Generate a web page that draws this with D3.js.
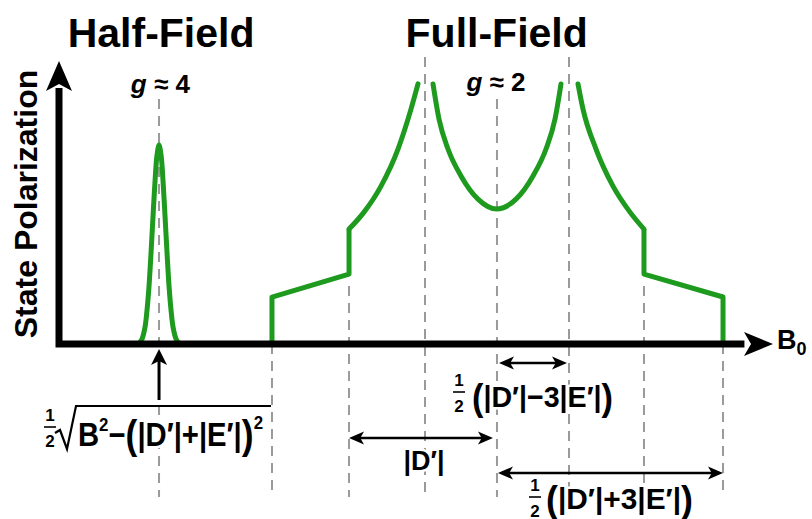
<!DOCTYPE html>
<html>
<head>
<meta charset="utf-8">
<script src="https://cdn.jsdelivr.net/npm/d3@7"></script>
<style>
  html, body { margin: 0; padding: 0; background: #ffffff; }
  svg { display: block; }
  text { font-family: "Liberation Sans", Arial, Helvetica, sans-serif; font-weight: bold; fill: #000; }
  .halo { paint-order: stroke; stroke: #ffffff; stroke-width: 5px; stroke-linejoin: round; }
</style>
</head>
<body>
<svg id="chart" width="812" height="519"></svg>
<script>
// Magnetic field axis in arbitrary units (0 = origin, 100 = arrow tip),
// state polarization in arbitrary units (0 = baseline).

// Half-field (g ≈ 4) transition: narrow bell-shaped peak
const halfFieldPeak = [
  [11.21, 0.2], [11.63, 1.8], [12.05, 6.0], [12.33, 12.0], [12.61, 20.5],
  [12.89, 32.2], [13.17, 45.2], [13.45, 57.6], [13.73, 66.8], [14.01, 70.3],
  [14.29, 66.8], [14.57, 57.6], [14.85, 45.2], [15.13, 32.2], [15.41, 20.5],
  [15.69, 12.0], [15.97, 6.0], [16.39, 1.8], [16.81, 0.2]
];

// Full-field (g ≈ 2) powder pattern, split into straight steps and smooth branches
const fullLeftSteps = [[29.83, 0], [29.83, 16.6], [40.62, 24.7], [40.62, 40.6]];
const fullLeftRise = [[40.62, 40.6], [42.72, 46.6], [45.10, 55.8], [47.48, 68.9], [49.30, 83.0], [50.28, 91.9]];
const fullDip = [
  [52.38, 91.9], [53.22, 79.5], [54.48, 68.9], [56.30, 59.4], [58.68, 51.2],
  [61.34, 47.7], [64.01, 51.2], [66.39, 59.4], [68.21, 68.9], [69.47, 79.5], [70.31, 91.9]
];
const fullRightFall = [[72.69, 91.9], [73.39, 83.0], [75.21, 68.9], [77.59, 55.8], [79.97, 46.6], [81.93, 40.6]];
const fullRightSteps = [[81.93, 40.6], [81.93, 24.7], [93.00, 16.6], [93.00, 0]];

// Dashed guide lines: field position and upper end (lower end is common)
const guideX   = [14.01, 29.83, 40.62, 51.26, 61.34, 71.43, 81.93, 93.00];
const guideTop = [86.6, 0, 20.5, 101.4, 86.6, 101.4, 20.5, 0];
const guideBottom = -54.1;

// Interval arrows (field positions of the two ends)
const spanD      = [40.62, 60.78];
const spanMinus  = [61.62, 71.15];
const spanPlus   = [61.48, 93.00];
const resonanceX = 14.01;

// Titles and g-factor labels, centred on the transitions
const titleText = ["Half-Field", "Full-Field"];
const titleX    = [14.3, 61.3];
const gValue    = ["4", "2"];
const gX        = [14.2, 61.2];

const svg = d3.select("#chart");
const x = d3.scaleLinear().domain([0, 100]).range([59, 773]);
const y = d3.scaleLinear().domain([0, 100]).range([344, 61]);

const GREEN = "#1e9a1e";
const GRAY = "#9a9a9a";

// ---- guide lines
svg.append("g").selectAll("line").data(guideX).join("line")
  .attr("x1", d => x(d)).attr("x2", d => x(d))
  .attr("y1", (d, i) => y(guideTop[i])).attr("y2", y(guideBottom))
  .attr("stroke", GRAY).attr("stroke-width", 2)
  .attr("stroke-dasharray", "10,7");

// ---- spectrum
const smooth = d3.line().x(d => x(d[0])).y(d => y(d[1])).curve(d3.curveMonotoneX);
const bell = d3.line().x(d => x(d[0])).y(d => y(d[1])).curve(d3.curveCatmullRom.alpha(0.5));
const straight = d3.line().x(d => x(d[0])).y(d => y(d[1]));
const curves = svg.append("g").attr("fill", "none").attr("stroke", GREEN)
  .attr("stroke-width", 5).attr("stroke-linejoin", "round").attr("stroke-linecap", "round");
curves.append("path").attr("d", bell(halfFieldPeak));
curves.append("path").attr("d", straight(fullLeftSteps)).attr("stroke-linecap", "butt");
curves.append("path").attr("d", smooth(fullLeftRise));
curves.append("path").attr("d", smooth(fullDip));
curves.append("path").attr("d", smooth(fullRightFall));
curves.append("path").attr("d", straight(fullRightSteps)).attr("stroke-linecap", "butt");

// ---- axes
const x0 = x(0), y0 = y(0);
svg.append("path")
  .attr("d", `M${x0},88 V${y0} H${x(96)}`)
  .attr("fill", "none").attr("stroke", "#000").attr("stroke-width", 7)
  .attr("stroke-linejoin", "miter");
svg.append("path")
  .attr("d", `M${x0},${y(100)} L${x0 - 13},${y(100) + 30} L${x0},${y(100) + 23} L${x0 + 13},${y(100) + 30} Z`)
  .attr("fill", "#000");
svg.append("path")
  .attr("d", `M${x(100)},${y0} L${x(100) - 29},${y0 - 12} L${x(100) - 22},${y0} L${x(100) - 29},${y0 + 12} Z`)
  .attr("fill", "#000");

// axis titles
svg.append("text").attr("transform", "translate(37,204) rotate(-90)")
  .attr("text-anchor", "middle").attr("font-size", 32).text("State Polarization");
const b0 = svg.append("text").attr("x", 777).attr("y", 349).attr("font-size", 27);
b0.append("tspan").text("B");
b0.append("tspan").attr("font-size", 18).attr("dy", 6).text("0");

// ---- titles and g labels
svg.append("g").selectAll("text").data(titleText).join("text")
  .attr("x", (d, i) => x(titleX[i])).attr("y", 47)
  .attr("text-anchor", "middle").attr("font-size", 41).text(d => d);

gValue.forEach((v, i) => {
  const t = svg.append("text").attr("x", x(gX[i])).attr("y", i === 0 ? 93 : 91)
    .attr("text-anchor", "middle").attr("font-size", 26).attr("class", "halo");
  t.append("tspan").attr("font-style", "italic").text("g");
  t.append("tspan").text(" \u2248 " + v);
});

// ---- arrows
function head(g, tx, ty, dir, len, half) {
  // dir: unit vector pointing toward the tip
  const [dx, dy] = dir;
  const bx = tx - dx * len, by = ty - dy * len;
  const px = -dy, py = dx;
  g.append("path")
    .attr("d", `M${tx},${ty} L${bx + px * half},${by + py * half} L${tx - dx * len * 0.75},${ty - dy * len * 0.75} L${bx - px * half},${by - py * half} Z`)
    .attr("fill", "#000");
}
function doubleArrow(span, yy) {
  const g = svg.append("g");
  const a = x(span[0]), b = x(span[1]);
  g.append("line").attr("x1", a + 8).attr("x2", b - 8).attr("y1", yy).attr("y2", yy)
    .attr("stroke", "#000").attr("stroke-width", 2.6);
  head(g, a, yy, [-1, 0], 15, 6.5);
  head(g, b, yy, [1, 0], 15, 6.5);
}
doubleArrow(spanMinus, 363);
doubleArrow(spanD, 438);
doubleArrow(spanPlus, 473);

const up = svg.append("g");
up.append("line").attr("x1", x(resonanceX)).attr("x2", x(resonanceX))
  .attr("y1", 400).attr("y2", 360).attr("stroke", "#000").attr("stroke-width", 3);
head(up, x(resonanceX), 349, [0, -1], 16, 8);

// ---- formula labels
function fraction(cx, yTop) {
  const g = svg.append("g");
  g.append("text").attr("x", cx).attr("y", yTop).attr("text-anchor", "middle")
    .attr("font-size", 17).attr("class", "halo").text("1");
  g.append("line").attr("x1", cx - 6).attr("x2", cx + 6).attr("y1", yTop + 6).attr("y2", yTop + 6)
    .attr("stroke", "#000").attr("stroke-width", 1.6);
  g.append("text").attr("x", cx).attr("y", yTop + 26).attr("text-anchor", "middle")
    .attr("font-size", 17).attr("class", "halo").text("2");
}
function mathText(x0, yBase, width, pieces) {
  const t = svg.append("text").attr("x", x0).attr("y", yBase).attr("class", "halo");
  pieces.forEach(p => t.append("tspan").attr("font-size", p.s).attr("dy", p.dy || 0).text(p.t));
  if (width) t.attr("textLength", width).attr("lengthAdjust", "spacingAndGlyphs");
  return t;
}

// Half-field resonance position
fraction(50, 421);
svg.append("path").attr("d", "M55,433 L60,430 L67,449 L76,406 L271,406")
  .attr("fill", "none").attr("stroke", "#000").attr("stroke-width", 2.2).attr("stroke-linejoin", "miter");
mathText(78, 446, 185, [
  { t: "B", s: 33 },
  { t: "2", s: 19, dy: -15 },
  { t: "\u2212", s: 33, dy: 15 },
  { t: "(", s: 40, dy: 3 },
  { t: "|D\u2032|+|E\u2032|", s: 33, dy: -3 },
  { t: ")", s: 40, dy: 3 },
  { t: "2", s: 19, dy: -20 }
]);

// Interval labels
fraction(459, 386);
mathText(472, 407, 141, [
  { t: "(", s: 36, dy: 3 },
  { t: "|D\u2032|\u22123|E\u2032|", s: 30, dy: -3 },
  { t: ")", s: 36, dy: 3 }
]);

svg.append("text").attr("x", 424).attr("y", 470).attr("text-anchor", "middle")
  .attr("font-size", 27).attr("class", "halo").text("|D\u2032|");

fraction(535, 491);
mathText(546, 509, 147, [
  { t: "(", s: 36, dy: 3 },
  { t: "|D\u2032|+3|E\u2032|", s: 30, dy: -3 },
  { t: ")", s: 36, dy: 3 }
]);
</script>
</body>
</html>
